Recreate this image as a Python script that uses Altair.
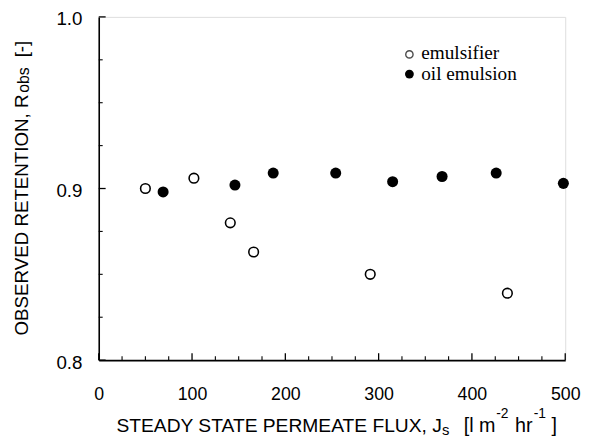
import altair as alt
import pandas as pd

# ---- data ----
emul_x = [50, 102, 141, 166, 291, 438]
emul_y = [0.900, 0.906, 0.880, 0.863, 0.850, 0.839]
oil_x = [69, 146, 187, 254, 315, 368, 426, 498]
oil_y = [0.898, 0.902, 0.909, 0.909, 0.904, 0.907, 0.909, 0.903]
series_names = ["emulsifier", "oil emulsion"]

x_major = [0, 100, 200, 300, 400, 500]
x_minor = [25, 50, 75, 125, 150, 175, 225, 250, 275, 325, 350, 375, 425, 450, 475]
y_major = [0.8, 0.9, 1.0]
y_minor = [0.825, 0.85, 0.875, 0.925, 0.95, 0.975]

W, H = 473, 348
SANS = "Liberation Sans"
SERIF = "Liberation Serif"

emul = pd.DataFrame({"x": emul_x, "y": emul_y, "series": series_names[0]})
oil = pd.DataFrame({"x": oil_x, "y": oil_y, "series": series_names[1]})

xs = alt.Scale(domain=[0, 500], nice=False, zero=False)
ys = alt.Scale(domain=[0.8, 1.0], nice=False, zero=False)

xaxis = alt.Axis(values=x_major, ticks=False, tickSize=0, grid=False, domainColor="black",
                 domainWidth=1.6, labelFont=SANS, labelFontSize=18, labelColor="black",
                 labelPadding=26, title=None, labelFlush=False)
yaxis = alt.Axis(values=y_major, ticks=False, tickSize=0, grid=False, domainColor="black",
                 domainWidth=1.6, labelFont=SANS, labelFontSize=19, labelColor="black",
                 labelPadding=17, labelOffset=2, format=".1f", title=None, labelFlush=False)

open_pts = alt.Chart(emul).mark_point(shape="circle", filled=False, color="black",
                                      strokeWidth=1.6, size=95, fill="white", fillOpacity=1).encode(
    x=alt.X("x:Q", scale=xs, axis=xaxis),
    y=alt.Y("y:Q", scale=ys, axis=yaxis),
)
filled_pts = alt.Chart(oil).mark_point(shape="circle", filled=True, color="black",
                                       size=125, opacity=1).encode(
    x=alt.X("x:Q", scale=xs),
    y=alt.Y("y:Q", scale=ys),
)

# inside ticks
xt_major = alt.Chart(pd.DataFrame({"v": x_major})).mark_rule(color="black", strokeWidth=1.3).encode(
    x=alt.X("v:Q", scale=xs), y=alt.value(H), y2=alt.value(H - 7))
xt_minor = alt.Chart(pd.DataFrame({"v": x_minor})).mark_rule(color="black", strokeWidth=1.1).encode(
    x=alt.X("v:Q", scale=xs), y=alt.value(H), y2=alt.value(H - 4))
yt_major = alt.Chart(pd.DataFrame({"v": y_major})).mark_rule(color="black", strokeWidth=1.3).encode(
    y=alt.Y("v:Q", scale=ys), x=alt.value(0), x2=alt.value(7))
yt_minor = alt.Chart(pd.DataFrame({"v": y_minor})).mark_rule(color="black", strokeWidth=1.1).encode(
    y=alt.Y("v:Q", scale=ys), x=alt.value(0), x2=alt.value(4))

# legend (manual)
leg_open = alt.Chart(pd.DataFrame({"s": [series_names[0]]})).mark_point(
    shape="circle", filled=False, color="black", strokeWidth=1.4, size=55).encode(
    x=alt.value(315), y=alt.value(38))
leg_fill = alt.Chart(pd.DataFrame({"s": [series_names[1]]})).mark_point(
    shape="circle", filled=True, color="black", opacity=1, size=80).encode(
    x=alt.value(315), y=alt.value(58))
leg_t1 = alt.Chart(pd.DataFrame({"s": [series_names[0]]})).mark_text(
    font=SERIF, fontSize=19.5, align="left", baseline="middle", color="black").encode(
    text="s:N", x=alt.value(327), y=alt.value(37))
leg_t2 = alt.Chart(pd.DataFrame({"s": [series_names[1]]})).mark_text(
    font=SERIF, fontSize=19.5, align="left", baseline="middle", color="black").encode(
    text="s:N", x=alt.value(327), y=alt.value(58))


def piece(txt, x, y, size, angle=0):
    kw = dict(font=SANS, fontSize=size, align="left", baseline="alphabetic", color="black")
    if angle:
        kw["angle"] = angle
    return alt.Chart(pd.DataFrame({"t": [txt]})).mark_text(**kw).encode(
        text="t:N", x=alt.value(x), y=alt.value(y))


# x-axis title pieces
xt = [
    piece("STEADY STATE PERMEATE FLUX, J", 18, 421, 19.5),
    piece("s", 348, 424, 15),
    piece("[l m", 370, 421, 20),
    piece("-2", 403, 407, 14),
    piece("hr", 422, 421, 20),
    piece("-1", 441, 407, 14),
    piece("]", 459, 421, 20),
]
# y-axis title pieces (rotated)
yt = [
    piece("OBSERVED RETENTION, R", -72, 323, 19, 270),
    piece("obs", -70.5, 77, 16, 270),
    piece("[-]", -72, 41, 19, 270),
]

chart = alt.layer(
    open_pts, filled_pts, xt_major, xt_minor, yt_major, yt_minor,
    leg_open, leg_fill, leg_t1, leg_t2, *xt, *yt
).properties(
    width=W, height=H,
    autosize=alt.AutoSizeParams(type="none"),
    padding={"left": 92, "top": 6, "right": 17, "bottom": 81},
).configure_view(stroke="black", strokeWidth=1.6).configure(background="white")

chart.save("out.html", embed_options={"renderer": "svg", "actions": False})
